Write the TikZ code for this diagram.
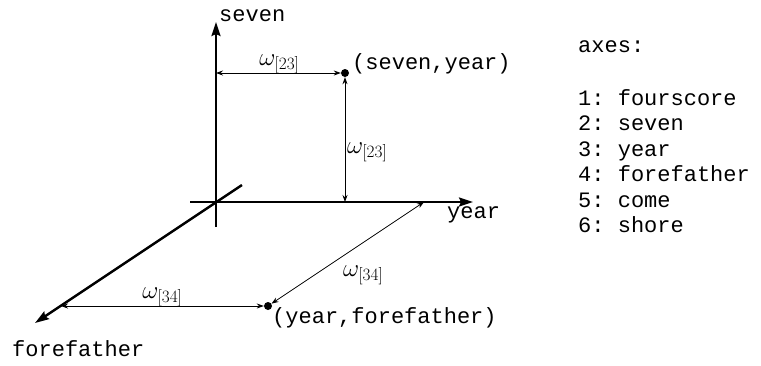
\documentclass[tikz,border=0pt]{standalone}
\usepackage{fontspec}
\setmonofont{Liberation Mono}
\usetikzlibrary{arrows.meta}
\begin{document}
\begin{tikzpicture}[x=1pt,y=-1pt,
  axis/.style={line width=2.4pt,-{Stealth[length=14pt,width=9pt,inset=2pt]}},
  dim/.style={line width=0.8pt,{Stealth[length=7pt,width=5pt]}-{Stealth[length=7pt,width=5pt]}},
  dot/.style={circle,fill=black,inner sep=0pt,minimum size=8pt},
  mono/.style={font=\fontsize{22}{25}\selectfont\ttfamily,inner sep=0pt},
  lab/.style={font=\fontsize{24}{28}\selectfont,inner sep=0pt}]
\useasboundingbox (0,0) rectangle (761,365);
% axes
\coordinate (sevB) at (216,227);
\coordinate (sevT) at (216,22);
\coordinate (yrL) at (190,202);
\coordinate (yrR) at (473,202);
\coordinate (ffT) at (242,185);
\coordinate (ffE) at (35,323);
\draw[axis] (sevB) -- (sevT);
\draw[axis] (yrL) -- (yrR);
\draw[axis] (ffT) -- (ffE);
% points
\node[dot] (sy) at (345,73) {};
\node[dot] (yf) at (268,306) {};
\coordinate (a1) at (216,73);
\coordinate (a2) at (345,202);
\coordinate (b1) at (61,306);
\coordinate (b2) at (424,202);
\draw[dim] (a1) -- (sy);
\draw[dim] (a2) -- (sy);
\draw[dim] (b1) -- (yf);
\draw[dim] (b2) -- (yf);
% labels
\node[mono,anchor=base west] (lsev) at (219,21.5) {seven};
\node[mono,anchor=base west] (lyr) at (447,218) {year};
\node[mono,anchor=base west] (lff) at (12,356) {forefather};
\node[mono,anchor=base west] (lsy) at (352,69) {(seven,year)};
\node[mono,anchor=base west] (lyf) at (272,323) {(year,forefather)};
\node[lab,anchor=base] (w1) at (279.5,65) {$\omega_{[23]}$};
\node[lab,anchor=base west] (w2) at (347,153) {$\omega_{[23]}$};
\node[lab,anchor=base] (w3) at (162.5,298) {$\omega_{[34]}$};
\node[lab,anchor=base west] (w4) at (343,276) {$\omega_{[34]}$};
% legend
\node[mono,anchor=base west] (ax) at (578,52.5) {axes:};
\node[mono,anchor=base west] (ax1) at (578,105.5) {1: fourscore};
\node[mono,anchor=base west] (ax2) at (578,130.9) {2: seven};
\node[mono,anchor=base west] (ax3) at (578,156.3) {3: year};
\node[mono,anchor=base west] (ax4) at (578,181.7) {4: forefather};
\node[mono,anchor=base west] (ax5) at (578,207.1) {5: come};
\node[mono,anchor=base west] (ax6) at (578,232.5) {6: shore};
\end{tikzpicture}
\end{document}
